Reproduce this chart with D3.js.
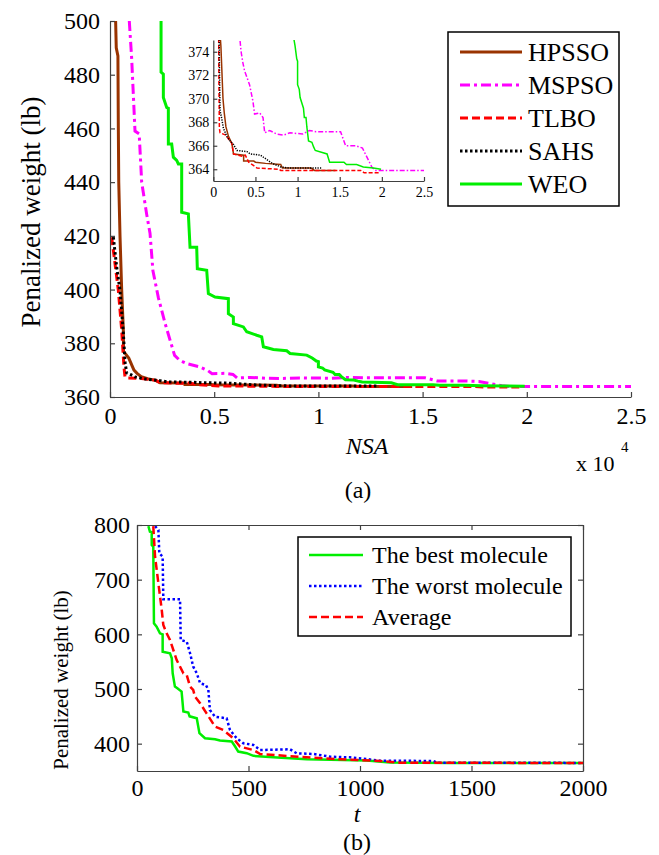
<!DOCTYPE html>
<html>
<head>
<meta charset="utf-8">
<script src="https://cdn.jsdelivr.net/npm/d3@7"></script>
</head>
<body style="margin:0">
<svg id="fig" width="659" height="855" font-family="Liberation Serif"></svg>
<script>
// ---- data ----
// (a) convergence histories: [NSA, penalized weight]
const hpsso = [[270,500],[300,490],[380,487],[400,460],[420,440],[480,420],[560,400],[640,385],[650,377],
  [900,374.5],[1150,370],[1300,368.8],[1500,367.6],[1800,366.8],[2200,366.2],[2400,365.3],[3600,365.2],
  [3600,364.7],[4800,364.7],[5000,364.6],[6200,364.5],[8000,364.4],[8200,364.1],[11600,364.1],[12000,363.9],[14500,363.9]];
const mspso = [[926,500],[1040,486],[1200,459],[1400,458],[1520,440],[1760,428],[1920,421],[2060,407],[2320,397],
  [2640,387.5],[3100,375.5],[3300,374],[3500,373.1],[3700,372.4],[4300,371.2],[4700,369.8],[4900,368.7],[5500,368.8],
  [5900,368.4],[6100,367.1],[6700,367.3],[7500,367],[8300,366.9],[9100,367.1],[10600,367],[11400,367.3],[12200,367.2],
  [15100,367.2],[15700,366],[16900,366],[17700,365.8],[18800,364.2],[19200,363.9],[25000,363.9]];
const tlbo = [[80,419.5],[240,409.7],[400,399.7],[560,385],[670,371.2],[720,367.5],[800,367.1],[1500,366.9],
  [2000,366.4],[2200,366.2],[2400,365.3],[3400,365.1],[3800,365.2],[4200,364.6],[4800,364.3],[5200,364.1],
  [7800,364],[8000,363.9],[17500,363.9],[17900,363.7],[19800,363.7]];
const sahs = [[160,419.5],[320,408.4],[480,399.7],[640,383.8],[720,373],[800,369],[1000,368.3],[1200,367.5],
  [1600,366.8],[2000,366.4],[2400,366.1],[2800,365.6],[4000,365.5],[4400,365.3],[5600,365.2],[6400,364.8],
  [7000,364.5],[8000,364.2],[9000,364.1],[12800,364.1]];
const weo = [[2450,500],[2450,481],[2560,480.2],[2560,471.5],[2720,467.8],[2800,467.5],[2800,454.2],[2960,454.2],
  [3040,449.3],[3200,448.1],[3280,446.8],[3440,446.8],[3440,428.8],[3760,428.2],[3840,415.8],[4160,415.8],
  [4190,407.8],[4640,407.2],[4720,398.5],[5040,397.2],[5680,396.6],[5680,391],[5920,389.8],[5920,387.3],
  [6400,386.1],[6560,384.3],[7040,383],[7280,382.4],[7360,378.7],[7840,377.7],[8480,377.2],[8640,376.2],
  [9440,375.6],[9700,374.5],[9900,373.4],[10000,373.2],[10000,371.2],[10200,370.8],[10300,370.1],[10700,369.2],
  [10800,368.4],[11000,368.4],[11100,367.6],[11300,366.4],[11700,366.3],[11900,365.9],[12100,365.6],[13500,365.3],
  [13800,364.6],[15500,364.6],[15800,364.4],[17000,364.4],[17800,364.2],[19000,364.1],[19900,364]];
const namesA = ["HPSSO", "MSPSO", "TLBO", "SAHS", "WEO"];
const xTicksA = [0, 5000, 10000, 15000, 20000, 25000];
const xTickLabelsA = ["0", "0.5", "1", "1.5", "2", "2.5"];
const yTicksA = [360, 380, 400, 420, 440, 460, 480, 500];
const yTicksInset = [364, 366, 368, 370, 372, 374];

// (b) molecules: [t, penalized weight]
const best = [[51,798],[58,787.6],[66,787],[66,763.4],[73,760.3],[76,620.1],[88,614],[103,601.8],[115,600],
  [115,568.3],[148,565.4],[156,556.2],[160,528.8],[170,504.4],[181,501.3],[200,495.3],[208,458.7],[230,456.9],
  [236,450],[268,446.6],[280,419.2],[305,410],[350,408.2],[372,405.7],[425,403.9],[440,394.8],[454,385.6],
  [492,382.6],[522,377.7],[611,375.3],[761,371.6],[1030,369.1],[1135,365.4],[1400,364.6],[2000,364.5]];
const worst = [[81,798],[96,790.8],[100,748.2],[115,742],[118,664.1],[193,664.1],[196,589.6],[223,586.6],
  [238,565.4],[252,541],[268,528.8],[283,510.6],[309,507.3],[320,498.2],[327,461.6],[350,449.3],[402,446.4],
  [417,425],[447,409.8],[477,400.7],[522,397.6],[552,388.4],[686,389.7],[716,382.4],[791,381.1],[865,376.2],
  [955,375],[1015,372.5],[1090,368.9],[1329,368.3],[1344,365.3],[2000,364.8]];
const average = [[73,798],[81,742],[96,693.2],[111,644.5],[118,617],[133,601.8],[148,589.6],[178,553],
  [208,528.8],[223,525.6],[238,504.4],[252,498.2],[260,486.1],[283,473.8],[312,455.5],[350,431.1],[387,425],
  [432,409.8],[462,394.5],[522,388.4],[552,381.1],[671,377.5],[761,375.1],[910,371.4],[1090,368.3],
  [1179,365.3],[2000,364.6]];
const namesB = ["The best molecule", "The worst molecule", "Average"];
const xTicksB = [0, 500, 1000, 1500, 2000];
const yTicksB = [400, 500, 600, 700, 800];

// ---- styles ----
const styleA = [
  {color: "#993300", dash: null},
  {color: "#ff00ff", dash: "10,4,3,4"},
  {color: "#ff0000", dash: "8,4"},
  {color: "#000000", dash: "2.5,2.5"},
  {color: "#00ee00", dash: null}
];
const styleB = [
  {color: "#00ee00", dash: null},
  {color: "#0000ff", dash: "2.5,2.5"},
  {color: "#ff0000", dash: "8,4"}
];
const axisColor = "#404040";
const FONT = "Liberation Serif";

const svg = d3.select("#fig");

function styleAxis(g, size) {
  g.attr("font-family", FONT);
  g.selectAll("path, line").attr("stroke", axisColor).attr("stroke-width", 1.2);
  g.selectAll("text").attr("font-size", size).attr("fill", "#000");
}

// ================= (a) =================
const xA = d3.scaleLinear().domain([0, 25000]).range([110, 631]);
const yA = d3.scaleLinear().domain([360, 500]).range([397, 21]);
const dataA = [hpsso, mspso, tlbo, sahs, weo];

svg.append("clipPath").attr("id", "clipA").append("rect")
  .attr("x", 110).attr("y", 21).attr("width", 521).attr("height", 376);

const lineA = d3.line().x(d => xA(d[0])).y(d => yA(d[1]));
svg.append("g").attr("clip-path", "url(#clipA)")
  .selectAll("path").data(dataA).join("path")
  .attr("d", lineA).attr("fill", "none")
  .attr("stroke", (d, i) => styleA[i].color)
  .attr("stroke-dasharray", (d, i) => styleA[i].dash)
  .attr("stroke-width", 3);

svg.append("g").attr("transform", "translate(0,397)")
  .call(d3.axisBottom(xA).tickValues(xTicksA).tickFormat((d, i) => xTickLabelsA[i])
    .tickSizeInner(-5).tickSizeOuter(0).tickPadding(10))
  .call(g => styleAxis(g, 24));
svg.append("g").attr("transform", "translate(110,0)")
  .call(d3.axisLeft(yA).tickValues(yTicksA).tickSizeInner(-5).tickSizeOuter(0).tickPadding(10))
  .call(g => styleAxis(g, 24));

svg.append("text").attr("transform", "translate(40,212) rotate(-90)")
  .attr("text-anchor", "middle").attr("font-size", 27).text("Penalized weight (lb)");
svg.append("text").attr("x", 367).attr("y", 454).attr("text-anchor", "middle")
  .attr("font-size", 24).attr("font-style", "italic").text("NSA");
svg.append("text").attr("x", 576).attr("y", 471).attr("font-size", 22).text("x 10");
svg.append("text").attr("x", 621).attr("y", 452).attr("font-size", 15).text("4");
svg.append("text").attr("x", 358).attr("y", 498).attr("text-anchor", "middle")
  .attr("font-size", 24).text("(a)");

// inset
const xI = d3.scaleLinear().domain([0, 25000]).range([213.3, 424]);
const yI = d3.scaleLinear().domain([363, 375]).range([181, 40]);
svg.append("rect").attr("x", 214).attr("y", 40).attr("width", 210).attr("height", 141).attr("fill", "#fff");
svg.append("clipPath").attr("id", "clipI").append("rect")
  .attr("x", 213.3).attr("y", 40).attr("width", 211).attr("height", 141);
const lineI = d3.line().x(d => xI(d[0])).y(d => yI(d[1]));
svg.append("g").attr("clip-path", "url(#clipI)")
  .selectAll("path").data(dataA).join("path")
  .attr("d", lineI).attr("fill", "none")
  .attr("stroke", (d, i) => styleA[i].color)
  .attr("stroke-dasharray", (d, i) => styleA[i].dash ? styleA[i].dash.split(",").map(v => v * 0.5).join(",") : null)
  .attr("stroke-width", 1.5);
svg.append("g").attr("transform", "translate(0,181)")
  .call(d3.axisBottom(xI).tickValues(xTicksA).tickFormat((d, i) => xTickLabelsA[i])
    .tickSizeInner(-4).tickSizeOuter(0).tickPadding(6))
  .call(g => styleAxis(g, 14));
svg.append("g").attr("transform", "translate(213.3,0)")
  .call(d3.axisLeft(yI).tickValues(yTicksInset).tickSizeInner(-4).tickSizeOuter(0).tickPadding(4))
  .call(g => styleAxis(g, 14));

// legend (a)
const legA = svg.append("g");
legA.append("rect").attr("x", 448).attr("y", 32).attr("width", 171).attr("height", 174)
  .attr("fill", "#fff").attr("stroke", "#000").attr("stroke-width", 1.5);
const legItemA = legA.selectAll("g.item").data(namesA).join("g")
  .attr("transform", (d, i) => `translate(0,${52 + i * 33})`);
legItemA.append("line").attr("x1", 460).attr("x2", 522)
  .attr("stroke", (d, i) => styleA[i].color)
  .attr("stroke-dasharray", (d, i) => styleA[i].dash)
  .attr("stroke-width", 3);
legItemA.append("text").attr("x", 528).attr("dy", "0.35em").attr("font-size", 26).text(d => d);

// ================= (b) =================
const xB = d3.scaleLinear().domain([0, 2000]).range([137, 583]);
const yB = d3.scaleLinear().domain([350, 800]).range([771, 525]);
const dataB = [best, worst, average];

svg.append("clipPath").attr("id", "clipB").append("rect")
  .attr("x", 137).attr("y", 525).attr("width", 446).attr("height", 246);
const lineB = d3.line().x(d => xB(d[0])).y(d => yB(d[1]));
svg.append("g").attr("clip-path", "url(#clipB)")
  .selectAll("path").data(dataB).join("path")
  .attr("d", lineB).attr("fill", "none")
  .attr("stroke", (d, i) => styleB[i].color)
  .attr("stroke-dasharray", (d, i) => styleB[i].dash)
  .attr("stroke-width", 2.5);

svg.append("g").attr("transform", "translate(0,771)")
  .call(d3.axisBottom(xB).tickValues(xTicksB).tickFormat(d3.format("d"))
    .tickSizeInner(-5).tickSizeOuter(0).tickPadding(8))
  .call(g => styleAxis(g, 24));
svg.append("g").attr("transform", "translate(137,0)")
  .call(d3.axisLeft(yB).tickValues(yTicksB).tickFormat(d3.format("d"))
    .tickSizeInner(-5).tickSizeOuter(0).tickPadding(7))
  .call(g => styleAxis(g, 24));
svg.append("g").attr("transform", "translate(0,525)")
  .call(d3.axisTop(xB).tickValues(xTicksB).tickSizeInner(-5).tickSizeOuter(0).tickFormat(""))
  .call(g => styleAxis(g, 24));
svg.append("g").attr("transform", "translate(583,0)")
  .call(d3.axisRight(yB).tickValues(yTicksB).tickSizeInner(-5).tickSizeOuter(0).tickFormat(""))
  .call(g => styleAxis(g, 24));

svg.append("text").attr("transform", "translate(68,680) rotate(-90)")
  .attr("text-anchor", "middle").attr("font-size", 21).text("Penalized weight (lb)");
svg.append("text").attr("x", 357).attr("y", 822).attr("text-anchor", "middle")
  .attr("font-size", 24).attr("font-style", "italic").text("t");
svg.append("text").attr("x", 357).attr("y", 850).attr("text-anchor", "middle")
  .attr("font-size", 24).text("(b)");

// legend (b)
const legB = svg.append("g");
legB.append("rect").attr("x", 298).attr("y", 537).attr("width", 273).attr("height", 99)
  .attr("fill", "#fff").attr("stroke", "#000").attr("stroke-width", 1.5);
const legItemB = legB.selectAll("g.item").data(namesB).join("g")
  .attr("transform", (d, i) => `translate(0,${555 + i * 31})`);
legItemB.append("line").attr("x1", 309).attr("x2", 363)
  .attr("stroke", (d, i) => styleB[i].color)
  .attr("stroke-dasharray", (d, i) => styleB[i].dash)
  .attr("stroke-width", 2.5);
legItemB.append("text").attr("x", 372).attr("dy", "0.35em").attr("font-size", 24).text(d => d);

// serif on every text, set inline so it wins over the axis defaults
svg.selectAll("text").attr("font-family", FONT).style("font-family", `"${FONT}"`);
</script>
</body>
</html>
